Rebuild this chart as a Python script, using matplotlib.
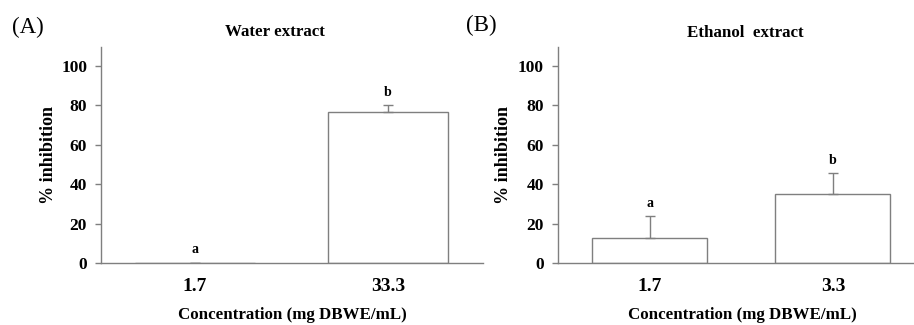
import matplotlib
matplotlib.use("Agg")
import matplotlib.pyplot as plt

# Data
categories_water = ["1.7", "33.3"]
values_water = [0.0, 76.7]
errors_water = [0.0, 3.2]
letters_water = ["a", "b"]

categories_ethanol = ["1.7", "3.3"]
values_ethanol = [12.7, 34.8]
errors_ethanol = [11.0, 10.7]
letters_ethanol = ["a", "b"]

yticks = [0, 20, 40, 60, 80, 100]

GRAY = "#7f7f7f"
SERIF = ["Liberation Serif", "DejaVu Serif"]

fig = plt.figure(figsize=(9.14, 3.25), dpi=100)

def panel(rect, cats, vals, errs, letters, xlim, width, title, tag, tagpos, titlepos, xlabpos, ylabx):
    ax = fig.add_axes(rect)
    x = list(range(len(cats)))
    ax.bar(x, vals, width=width, color="white", edgecolor=GRAY, linewidth=1.0, zorder=2)
    ax.errorbar(x, vals, yerr=[[0] * len(errs), errs], fmt="none", ecolor=GRAY,
                elinewidth=1.0, capsize=3.5, capthick=1.0, zorder=3)
    for xi, v, e, l in zip(x, vals, errs, letters):
        ax.annotate(l, (xi, v + e), xytext=(0, 7), textcoords="offset points",
                    ha="center", va="baseline", fontsize=10, fontweight="bold", family=SERIF)
    ax.set_xlim(*xlim)
    ax.set_ylim(0, 109.5)
    ax.set_yticks(yticks)
    ax.set_yticklabels([str(t) for t in yticks], fontsize=12.5, fontweight="bold", family=SERIF)
    ax.set_xticks(x)
    ax.set_xticklabels(cats, fontsize=14, fontweight="bold", family=SERIF)
    ax.tick_params(axis="x", length=0, pad=11)
    ax.tick_params(axis="y", length=4, width=1.0, color=GRAY, direction="out", pad=6)
    for s in ["top", "right"]:
        ax.spines[s].set_visible(False)
    for s in ["left", "bottom"]:
        ax.spines[s].set_color(GRAY)
        ax.spines[s].set_linewidth(1.0)
    ax.set_ylabel("% inhibition", fontsize=13, fontweight="bold", family=SERIF)
    ax.yaxis.set_label_coords(ylabx, 0.5)
    fig.text(xlabpos[0], xlabpos[1], "Concentration (mg DBWE/mL)", ha="center", va="center",
             fontsize=12.2, fontweight="bold", family=SERIF)
    fig.text(titlepos[0], titlepos[1], title, ha="center", va="center",
             fontsize=12.2, fontweight="bold", family=SERIF)
    fig.text(tagpos[0], tagpos[1], tag, ha="left", va="center", fontsize=16.5, family=SERIF)
    return ax

panel([101 / 914, 1 - 263 / 325, 382 / 914, 216 / 325],
      categories_water, values_water, errors_water, letters_water,
      (-0.487, 1.492), 0.62, "Water extract", "(A)",
      (12 / 914, 1 - 27 / 325), (275 / 914, 1 - 32 / 325), (292 / 914, 1 - 315 / 325), -0.115)

panel([557.7 / 914, 1 - 263 / 325, (914 - 557.7) / 914, 216 / 325],
      categories_ethanol, values_ethanol, errors_ethanol, letters_ethanol,
      (-0.504, 1.443), 0.628, "Ethanol  extract", "(B)",
      (466 / 914, 1 - 25 / 325), (745 / 914, 1 - 33 / 325), (742 / 914, 1 - 315 / 325), -0.128)

fig.savefig("out.png", dpi=100)
